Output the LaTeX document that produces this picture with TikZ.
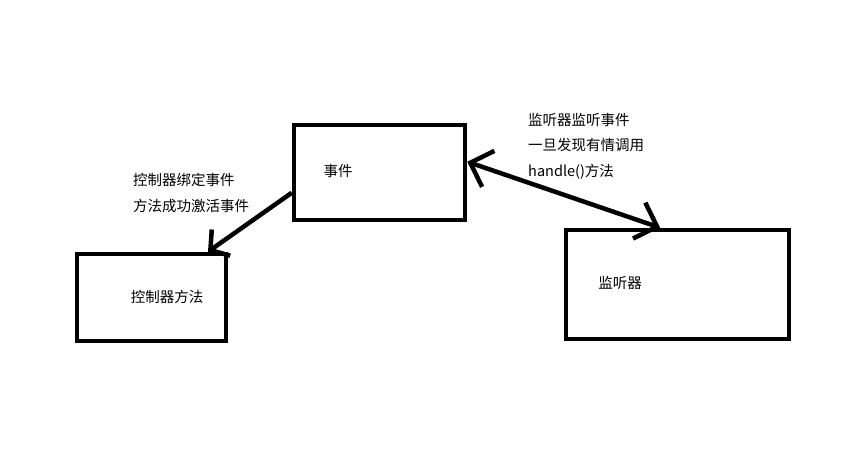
\documentclass[tikz,border=0pt]{standalone}
\usepackage{fontspec}
\setmainfont{Noto Sans CJK SC}
\usetikzlibrary{arrows.meta}
\begin{document}
\begin{tikzpicture}[x=1pt,y=-1pt,
    box/.style={draw, line width=4.5pt, inner sep=0pt},
    txt/.style={inner sep=0pt, font=\fontsize{14.5}{25.5}\selectfont},
    link/.style={line width=4.5pt}]

\def\BARB{Straight Barb[length=13pt,width=32pt]}
\def\WIDEBARB{Straight Barb[length=19pt,width=38pt]}
	\useasboundingbox (0,0) rectangle (866,474);
	% boxes
	\node[box, minimum width=171pt, minimum height=95pt] (evt) at (379.5,172.5) {};
	\node[box, minimum width=149pt, minimum height=87pt] (ctrl) at (151.5,297.5) {};
	\node[box, minimum width=223pt, minimum height=109pt] (lsn) at (677.5,284.5) {};
	% labels
	\node[txt] (evtname) at (338,171) {事件};
	\node[txt] (ctrlname) at (167,297) {控制器方法};
	\node[txt] (lsnname) at (620,283) {监听器};
	\node[txt, anchor=west, align=left] (bindnote) at (133,193) {控制器绑定事件\\方法成功激活事件};
	\node[txt, anchor=west, align=left] (hearnote) at (528,146) {监听器监听事件\\一旦发现有情调用\\handle()方法};
	% arrows
	\draw[link, -{\BARB}] (evt.193) -- (ctrl.39);
	\draw[link, {\WIDEBARB}-{\WIDEBARB}] (evt.7) -- (lsn.107);

\end{tikzpicture}
\end{document}
